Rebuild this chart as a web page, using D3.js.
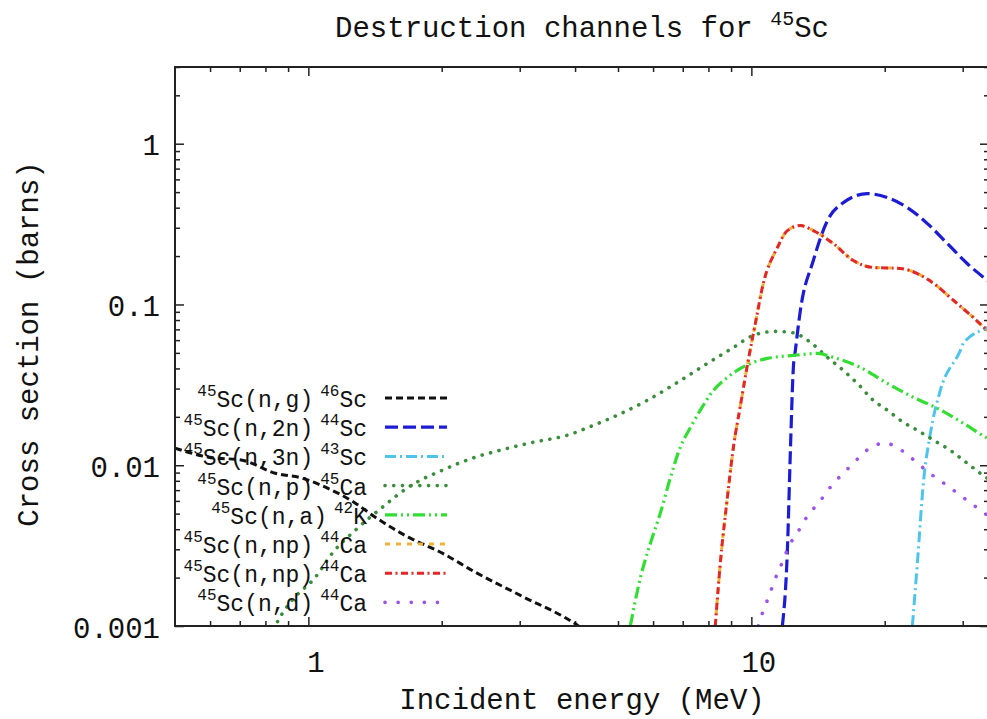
<!DOCTYPE html>
<html>
<head>
<meta charset="utf-8">
<script src="https://cdn.jsdelivr.net/npm/d3@7"></script>
<style>
    body { margin: 0; background: #fff; }
    svg { display: block; font-family: "Liberation Mono", "DejaVu Sans Mono", monospace; }
    .axis line { stroke: #222; stroke-width: 1.5; }
    .axis text { fill: #111; font-size: 29px; font-family: "Liberation Mono", monospace; }
</style>
</head>
<body>
<div id="plot"></div>
<script>
// tick values
var xMajor = [1, 10];
var xMinor = [0.6, 0.7, 0.8, 0.9, 2, 3, 4, 5, 6, 7, 8, 9, 20, 30];
var yMajor = [0.001, 0.01, 0.1, 1];
var yMinor = [0.002, 0.003, 0.004, 0.005, 0.006, 0.007, 0.008, 0.009,
              0.02, 0.03, 0.04, 0.05, 0.06, 0.07, 0.08, 0.09,
              0.2, 0.3, 0.4, 0.5, 0.6, 0.7, 0.8, 0.9, 2, 3];
var xTickLabels = ["1", "10"];
var yTickLabels = ["0.001", "0.01", "0.1", "1"];

// legend text pieces
var targetMass = "45";
var targetEl = "Sc";
var reactions = ["(n,g)", "(n,2n)", "(n,3n)", "(n,p)", "(n,a)", "(n,np)", "(n,np)", "(n,d)"];
var productMass = ["46", "44", "43", "45", "42", "44", "44", "44"];
var productEl = ["Sc", "Sc", "Sc", "Ca", "K", "Ca", "Ca", "Ca"];

// cross sections (MeV, barns)
var ngE  = [0.5, 0.595, 0.71, 0.842, 0.969, 1.093, 1.277, 1.416, 1.681, 2.006, 2.382, 3.01, 4.07, 4.4];
var ngXS = [0.01276, 0.01122, 0.01074, 0.00892, 0.0083, 0.0073, 0.00581, 0.00475, 0.00357, 0.00284, 0.00216, 0.00155, 0.001, 0.00085];

var n2nE  = [11.75, 12.06, 12.25, 12.44, 12.57, 12.9, 13.8, 14.85, 16.13, 18.28, 20.28, 22.5, 24.97, 27.7, 30.7, 34.1, 36];
var n2nXS = [0.001, 0.00297, 0.0124, 0.0406, 0.0518, 0.0918, 0.1877, 0.3324, 0.4301, 0.489, 0.462, 0.4003, 0.3184, 0.2393, 0.1798, 0.141, 0.125];

var n3nE  = [23.09, 23.7, 24.45, 25.36, 26.7, 29.64, 30.1, 34.1, 36];
var n3nXS = [0.001, 0.00246, 0.00773, 0.0158, 0.0292, 0.0518, 0.0573, 0.072, 0.078];

var npE  = [0.835, 0.856, 0.92, 1.037, 1.133, 1.277, 1.469, 1.681, 2.006, 2.382, 2.713, 3.22, 3.84, 4.4, 4.98, 5.82,
            6.81, 7.96, 9.11, 10.1, 11.33, 12.44, 13.6, 14.85, 16.13, 17.35, 18.86, 20.28, 22.03, 23.7, 25.8, 28.1, 30.1, 34.1, 36];
var npXS = [0.00095, 0.00109, 0.00145, 0.00201, 0.00284, 0.00395, 0.00548, 0.0073, 0.00931, 0.01122, 0.0124, 0.0139, 0.01536, 0.01771, 0.02046, 0.02534,
            0.03277, 0.04301, 0.05404, 0.0642, 0.068, 0.0666, 0.0581, 0.0469, 0.0389, 0.0323, 0.0253, 0.022, 0.0185, 0.0165, 0.01429, 0.0124, 0.01074, 0.0083, 0.0076];

var naE  = [5.33, 5.62, 5.92, 6.23, 6.57, 6.91, 7.29, 7.67, 8.21, 8.83, 9.45, 10.1, 10.87, 12.44, 14.09, 15.31, 17.62, 20.28, 23.21, 26.3, 30.1, 34.1, 36];
var naXS = [0.001, 0.00201, 0.00328, 0.00503, 0.00842, 0.01294, 0.01722, 0.022, 0.0292, 0.0352, 0.04, 0.0436, 0.0462, 0.0482, 0.0496, 0.0469, 0.0406, 0.0323, 0.02645, 0.0226, 0.01823, 0.01472, 0.0136];

var npdE  = [8.29, 8.51, 8.83, 9.11, 9.45, 9.84, 10.21, 10.64, 11.45, 12.06, 12.9, 13.8, 15.31, 16.99, 18.86, 21.7, 23.7, 25.8, 28.6, 31.7, 34.1, 36];
var npdXS = [0.001, 0.00246, 0.00633, 0.01294, 0.0236, 0.0449, 0.0762, 0.135, 0.226, 0.2882, 0.3095, 0.2882, 0.2393, 0.1877, 0.1698, 0.1674, 0.1558, 0.135, 0.1059, 0.083, 0.069, 0.062];

var ndE  = [10.37, 10.59, 10.87, 11.15, 11.45, 11.81, 12.12, 12.7, 13.1, 13.73, 14.46, 15.08, 15.88, 16.73, 17.62, 18.76,
            20.07, 21.47, 22.86, 24.32, 25.8, 27.4, 29.2, 30.9, 32.9, 34.1, 36];
var ndXS = [0.001, 0.0012, 0.00145, 0.00175, 0.00213, 0.00257, 0.0031, 0.00378, 0.00442, 0.00525, 0.00624, 0.0073, 0.00855, 0.00986, 0.01137, 0.01312,
            0.0137, 0.01276, 0.01122, 0.00972, 0.00855, 0.00762, 0.0067, 0.00597, 0.00525, 0.00489, 0.0045];

var seriesE  = [ngE, n2nE, n3nE, npE, naE, npdE, npdE, ndE];
var seriesXS = [ngXS, n2nXS, n3nXS, npXS, naXS, npdXS, npdXS, ndXS];

var styles = [
    {color: "#111111", dash: "7,4", w: 3, cap: "butt"},
    {color: "#1c1cd2", dash: "13,5", w: 3.2, cap: "butt"},
    {color: "#4fc4ea", dash: "11,4,2,4", w: 3, cap: "butt"},
    {color: "#3a8d3a", dash: "0.1,8.6", w: 3.6, cap: "round"},
    {color: "#33dd33", dash: "12,4,2,4,2,4", w: 3.2, cap: "butt"},
    {color: "#f2b233", dash: "5,6", w: 3, cap: "butt"},
    {color: "#e02828", dash: "7,3.5,2,3.5", w: 3, cap: "butt"},
    {color: "#9a55e8", dash: "0.1,13", w: 3.6, cap: "round"}
];

var width = 987, height = 719,
    margin = {left: 175, top: 67, right: -2, bottom: 93},
    g_width = width - margin.left - margin.right,
    g_height = height - margin.top - margin.bottom;

var svg = d3.select("#plot").append("svg")
    .attr("width", width)
    .attr("height", height);

var xScale = d3.scaleLog()
    .domain([0.5, 35])
    .range([margin.left, margin.left + 443 * Math.log10(70)]);

var yScale = d3.scaleLog()
    .domain([0.001, 3])
    .range([margin.top + g_height, margin.top]);

var x0 = margin.left, x1 = margin.left + g_width;
var y0 = yScale.range()[1], y1 = yScale.range()[0];

svg.append("clipPath").attr("id", "clip")
    .append("rect")
    .attr("x", x0).attr("y", y0)
    .attr("width", x1 - x0).attr("height", y1 - y0);

// axes, ticks pointing inward on all four sides
function addAxis(axis, tr) {
    var g = svg.append("g").attr("class", "axis").attr("transform", tr).call(axis);
    g.select(".domain").remove();
    return g;
}

addAxis(d3.axisBottom(xScale).tickValues(xMinor).tickSize(-5).tickFormat(""), "translate(0," + y1 + ")");
addAxis(d3.axisTop(xScale).tickValues(xMinor).tickSize(-5).tickFormat(""), "translate(0," + y0 + ")");
addAxis(d3.axisTop(xScale).tickValues(xMajor).tickSize(-9).tickFormat(""), "translate(0," + y0 + ")");
var xb = addAxis(d3.axisBottom(xScale).tickValues(xMajor).tickSize(-9).tickPadding(25)
    .tickFormat(function (d, i) { return xTickLabels[i]; }), "translate(0," + y1 + ")");
xb.selectAll("text").attr("dx", 7);

addAxis(d3.axisLeft(yScale).tickValues(yMinor).tickSize(-5).tickFormat(""), "translate(" + x0 + ",0)");
addAxis(d3.axisRight(yScale).tickValues(yMinor).tickSize(-5).tickFormat(""), "translate(" + x1 + ",0)");
addAxis(d3.axisRight(yScale).tickValues(yMajor).tickSize(-9).tickFormat(""), "translate(" + x1 + ",0)");
var yl = addAxis(d3.axisLeft(yScale).tickValues(yMajor).tickSize(-9).tickPadding(15)
    .tickFormat(function (d, i) { return yTickLabels[i]; }), "translate(" + x0 + ",0)");
yl.selectAll("text").attr("dy", "0.38em");

// curves
var line = d3.line()
    .curve(d3.curveMonotoneX)
    .x(function (d) { return xScale(d[0]); })
    .y(function (d) { return yScale(d[1]); });

var curves = svg.append("g").attr("clip-path", "url(#clip)");
seriesE.forEach(function (E, i) {
    var pts = E.map(function (e, j) { return [e, seriesXS[i][j]]; });
    var s = styles[i];
    curves.append("path")
        .attr("d", line(pts))
        .attr("fill", "none")
        .attr("stroke", s.color)
        .attr("stroke-width", s.w)
        .attr("stroke-dasharray", s.dash)
        .attr("stroke-linecap", s.cap);
});

// frame
svg.append("rect")
    .attr("x", x0).attr("y", y0)
    .attr("width", x1 - x0).attr("height", y1 - y0)
    .attr("fill", "none").attr("stroke", "#222").attr("stroke-width", 2);

// legend
var legX = 367, legY = 398, legStep = 29.2;
reactions.forEach(function (r, i) {
    var y = legY + i * legStep;
    var t = svg.append("text")
        .attr("x", legX).attr("y", y + 9)
        .attr("text-anchor", "end")
        .attr("fill", "#111")
        .style("font-size", "23px");
    t.append("tspan").attr("dy", -11).style("font-size", "16px").text(targetMass);
    t.append("tspan").attr("dy", 11).text(targetEl + r);
    t.append("tspan").attr("dx", 7).attr("dy", -11).style("font-size", "16px").text(productMass[i]);
    t.append("tspan").attr("dy", 11).text(productEl[i]);

    var s = styles[i];
    svg.append("line")
        .attr("x1", 385).attr("x2", 447)
        .attr("y1", y).attr("y2", y)
        .attr("stroke", s.color)
        .attr("stroke-width", s.w)
        .attr("stroke-dasharray", s.dash)
        .attr("stroke-linecap", s.cap);
});

// title and axis labels
var title = svg.append("text")
    .attr("x", 582).attr("y", 37)
    .attr("text-anchor", "middle")
    .attr("fill", "#111")
    .style("font-size", "29px");
title.append("tspan").text("Destruction channels for ");
title.append("tspan").attr("dy", -12).style("font-size", "20px").text(targetMass);
title.append("tspan").attr("dy", 12).text(targetEl);

svg.append("text")
    .attr("x", 582).attr("y", 709)
    .attr("text-anchor", "middle")
    .attr("fill", "#111")
    .style("font-size", "29px")
    .text("Incident energy (MeV)");

svg.append("text")
    .attr("transform", "translate(38,344) rotate(-90)")
    .attr("text-anchor", "middle")
    .attr("fill", "#111")
    .style("font-size", "29px")
    .text("Cross section (barns)");
</script>
</body>
</html>
